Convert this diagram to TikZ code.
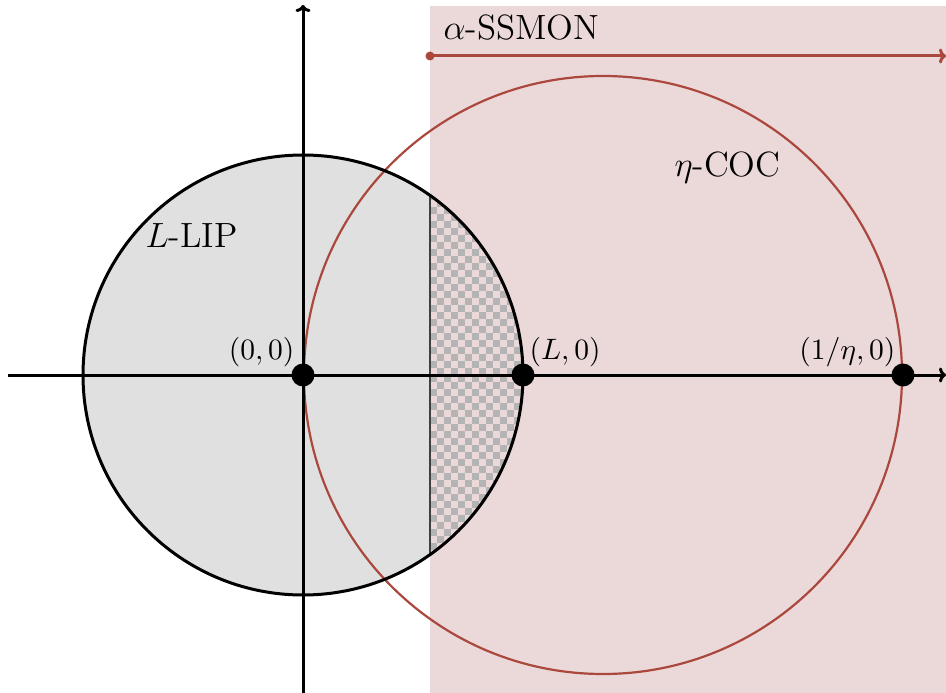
\documentclass[tikz,border=0pt]{standalone}
\usetikzlibrary{arrows.meta}
\definecolor{ssred}{RGB}{170,72,62}
\definecolor{sspink}{RGB}{235,216,216}
\definecolor{lipgray}{RGB}{224,224,224}
\definecolor{chkgray}{RGB}{180,180,180}
\tikzset{
  axisline/.style={line width=3pt, black, -{To[length=7pt,width=15pt]}},
  ssarrow/.style={line width=3pt, ssred, -{To[length=7pt,width=15pt]}},
  blackdot/.style={circle, fill=black, inner sep=0pt, minimum size=23pt},
  reddot/.style={circle, fill=ssred, inner sep=0pt, minimum size=9pt},
  coordlabel/.style={inner sep=0pt, font=\normalsize, scale=2.95},
  regionlabel/.style={inner sep=0pt, anchor=base west, font=\large, scale=2.92},
  checkcell/.style={fill=chkgray},
}
\begin{document}
\begin{tikzpicture}[x=1pt,y=-1pt]
\useasboundingbox (0,0) rectangle (946,693);
% L-LIP disk
\fill[lipgray] (303,375) circle (220);
% alpha-SSMON half-plane
\fill[sspink] (430,6) rectangle (946,693);
% intersection: checkerboard
\begin{scope}
  \clip (303,375) circle (220);
  \clip (430,150) rectangle (540,600);
  \foreach \i in {0,...,14}{
    \foreach \j in {0,...,60}{
      \pgfmathtruncatemacro{\cellpar}{mod(\i+\j,2)}
      \ifnum\cellpar=0
        \fill[checkcell] ({430+7*\i},{165+7*\j}) rectangle ({437+7*\i},{172+7*\j});
      \fi
    }
  }
\end{scope}
\draw[line width=1.4pt, black!75] (430,195.4) -- (430,554.6);
% eta-COC circle
\draw[ssred, line width=2.2pt] (603,375) circle (299);
% L-LIP circle boundary
\draw[black, line width=3pt] (303,375) circle (220);
% axes
\coordinate (xs) at (8,375);
\coordinate (xe) at (946,375);
\coordinate (ys) at (303,693);
\coordinate (ye) at (303,5);
\draw[axisline] (xs) -- (xe);
\draw[axisline] (ys) -- (ye);
% SSMON arrow
\node[reddot] (sa) at (430,56) {};
\coordinate (sb) at (946,56);
\draw[ssarrow] (sa.center) -- (sb);
% points
\node[blackdot] (O) at (303,375) {};
\node[blackdot] (Lp) at (523,375) {};
\node[blackdot] (Ep) at (903,375) {};
% labels
\node[coordlabel, anchor=base east] (lO) at (295,359) {$(0,0)$};
\node[coordlabel, anchor=base west] (lL) at (529,359) {$(L,0)$};
\node[coordlabel, anchor=base east] (lE) at (896,359) {$(1/\eta,0)$};
\node[regionlabel] (tlip) at (145,247) {$L$-LIP};
\node[regionlabel] (tcoc) at (674,176) {$\eta$-COC};
\node[regionlabel] (tss) at (443,40) {$\alpha$-SSMON};
\end{tikzpicture}
\end{document}
